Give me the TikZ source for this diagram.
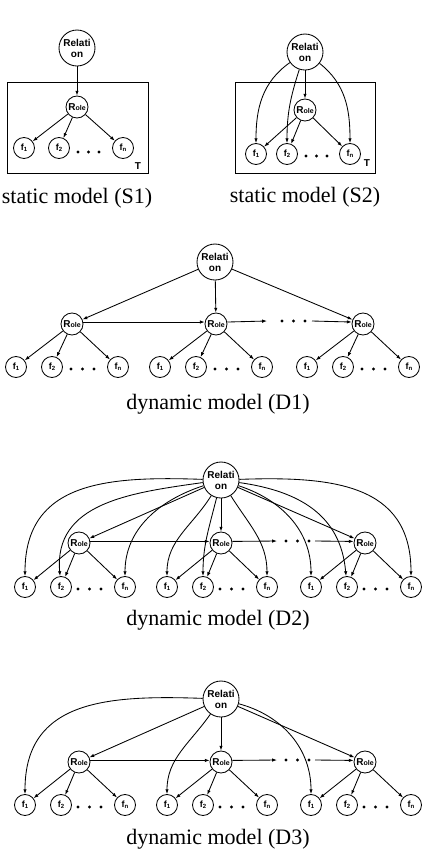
\documentclass[tikz,border=0pt]{standalone}
\usepackage{fontspec}
\setmainfont{Liberation Serif}
\setsansfont{Liberation Sans}
\usetikzlibrary{arrows.meta}
\newcommand{\rolelab}{R\raisebox{-0.4pt}{\fontsize{7}{7}\selectfont ole}}
\newcommand{\flab}[1]{f\raisebox{-1pt}{\fontsize{6}{6}\selectfont #1}}
\tikzset{
  base/.style={draw, circle, inner sep=0pt, line width=0.85pt, font=\sffamily\bfseries},
  relnode/.style={base, minimum size=36pt, align=center, font=\sffamily\bfseries\fontsize{10}{11}\selectfont},
  rolenode/.style={base, minimum size=22pt, font=\sffamily\bfseries\fontsize{10}{10}\selectfont},
  fnode/.style={base, minimum size=21pt, font=\sffamily\bfseries\fontsize{9}{9}\selectfont},
  arr/.style={-{Latex[length=4.8pt,width=3.4pt]}, line width=0.85pt},
  caption/.style={font=\fontsize{22}{22}\selectfont, anchor=base},
  frame/.style={draw, line width=0.85pt},
  tlab/.style={font=\sffamily\bfseries\fontsize{10}{10}\selectfont},
  dotr/.style={fill=black}
}
\begin{document}
\begin{tikzpicture}[x=1pt,y=-1pt]
\useasboundingbox (0,0) rectangle (426,852);
\fill[white] (0,0) rectangle (426,852);

% ---------------- S1 ----------------
\draw[frame] (7,82) rectangle (148,173);
\node[relnode] (sa) at (77,48) {Relati\\on};
\node[rolenode] (saro) at (77,107) {\rolelab};
\node[fnode] (saf1) at (24,148) {\flab{1}};
\node[fnode] (saf2) at (59,148) {\flab{2}};
\node[fnode] (safn) at (123,148) {\flab{n}};
\foreach \x in {78,88.5,99} \fill[dotr] (\x,152) circle (1.7);
\node[tlab] (sat) at (138,166) {T};
\draw[arr] (sa) -- (saro);
\draw[arr] (saro) -- (saf1);
\draw[arr] (saro) -- (saf2);
\draw[arr] (saro) -- (safn);
\node[caption] (sacap) at (77,203) {static model (S1)};

% ---------------- S2 ----------------
\draw[frame] (235,82) rectangle (375,173);
\node[relnode] (sb) at (305,52) {Relati\\on};
\node[rolenode] (sbro) at (305,110) {\rolelab};
\node[fnode] (sbf1) at (256,154) {\flab{1}};
\node[fnode] (sbf2) at (287,154) {\flab{2}};
\node[fnode] (sbfn) at (350,154) {\flab{n}};
\foreach \x in {306,316.5,327} \fill[dotr] (\x,156) circle (1.7);
\node[tlab] (sbt) at (367,163) {T};
\draw[arr] (sb) -- (sbro);
\draw[arr] (sbro) -- (sbf1);
\draw[arr] (sbro) -- (sbf2);
\draw[arr] (sbro) -- (sbfn);
\draw[arr] (sb) to[out=215,in=90] (sbf1);
\draw[arr] (sb) to[out=252,in=90] (sbf2);
\draw[arr] (sb) to[out=-38,in=90] (sbfn);
\node[caption] (sbcap) at (305,202) {static model (S2)};

% ---------------- D1 ----------------
\node[relnode] (da) at (215,262) {Relati\\on};
\node[rolenode] (daro1) at (72,324) {\rolelab};
\node[rolenode] (daro2) at (216,324) {\rolelab};
\node[rolenode] (daro3) at (363,324) {\rolelab};
\foreach \g/\rx in {1/72,2/216,3/363}{
  \node[fnode] (daf\g a) at (\rx-56,367) {\flab{1}};
  \node[fnode] (daf\g b) at (\rx-20,367) {\flab{2}};
  \node[fnode] (daf\g n) at (\rx+46,367) {\flab{n}};
  \foreach \dx in {-1,10.5,22} \fill[dotr] (\rx+\dx,369) circle (1.7);
  \draw[arr] (daro\g) -- (daf\g a);
  \draw[arr] (daro\g) -- (daf\g b);
  \draw[arr] (daro\g) -- (daf\g n);
  \draw[arr] (da) -- (daro\g);
}
\coordinate (dac1) at (267,321);
\coordinate (dac2) at (312,321);
\draw[arr] (daro1.10) -- (daro2.170);
\draw[arr] (daro2.10) -- (dac1);
\foreach \x in {282,293.5,305} \fill[dotr] (\x,321) circle (1.7);
\draw[arr] (dac2) -- (daro3.170);
\node[caption] (dacap) at (218,409) {dynamic model (D1)};

% ---------------- D2 ----------------
\node[relnode] (db) at (221,480) {Relati\\on};
\node[rolenode] (dbro1) at (79,543) {\rolelab};
\node[rolenode] (dbro2) at (221,543) {\rolelab};
\node[rolenode] (dbro3) at (365,543) {\rolelab};
\foreach \g/\rx in {1/79,2/221,3/365}{
  \node[fnode] (dbf\g a) at (\rx-54,587) {\flab{1}};
  \node[fnode] (dbf\g b) at (\rx-18,587) {\flab{2}};
  \node[fnode] (dbf\g n) at (\rx+46,587) {\flab{n}};
  \foreach \dx in {-1,10.5,22} \fill[dotr] (\rx+\dx,589) circle (1.7);
  \draw[arr] (dbro\g) -- (dbf\g a);
  \draw[arr] (dbro\g) -- (dbf\g b);
  \draw[arr] (dbro\g) -- (dbf\g n);
  \draw[arr] (db) -- (dbro\g);
}
\coordinate (dbc1) at (277,541);
\coordinate (dbc2) at (315,541);
\draw[arr] (dbro1.8) -- (dbro2.172);
\draw[arr] (dbro2.8) -- (dbc1);
\foreach \x in {286,297.5,309} \fill[dotr] (\x,541) circle (1.7);
\draw[arr] (dbc2) -- (dbro3.172);
\draw[arr] (db) to[out=178,in=90,looseness=1.2] (dbf1a);
\draw[arr] (db) to[out=188,in=95,looseness=1.1] (dbf1b);
\draw[arr] (db) to[out=198,in=90] (dbf1n);
\draw[arr] (db) to[out=238,in=90] (dbf2a);
\draw[arr] (db) to[out=256,in=90] (dbf2b);
\draw[arr] (db) to[out=-58,in=90] (dbf2n);
\draw[arr] (db) to[out=-18,in=90] (dbf3a);
\draw[arr] (db) to[out=-8,in=95,looseness=1.1] (dbf3b);
\draw[arr] (db) to[out=2,in=90,looseness=1.2] (dbf3n);
\node[caption] (dbcap) at (218,625) {dynamic model (D2)};

% ---------------- D3 ----------------
\node[relnode] (dc) at (221,699) {Relati\\on};
\node[rolenode] (dcro1) at (79,762) {\rolelab};
\node[rolenode] (dcro2) at (221,762) {\rolelab};
\node[rolenode] (dcro3) at (365,762) {\rolelab};
\foreach \g/\rx in {1/79,2/221,3/365}{
  \node[fnode] (dcf\g a) at (\rx-54,805) {\flab{1}};
  \node[fnode] (dcf\g b) at (\rx-18,805) {\flab{2}};
  \node[fnode] (dcf\g n) at (\rx+46,805) {\flab{n}};
  \foreach \dx in {-1,10.5,22} \fill[dotr] (\rx+\dx,807) circle (1.7);
  \draw[arr] (dcro\g) -- (dcf\g a);
  \draw[arr] (dcro\g) -- (dcf\g b);
  \draw[arr] (dcro\g) -- (dcf\g n);
  \draw[arr] (dc) -- (dcro\g);
}
\coordinate (dcc1) at (277,760);
\coordinate (dcc2) at (315,760);
\draw[arr] (dcro1.8) -- (dcro2.172);
\draw[arr] (dcro2.8) -- (dcc1);
\foreach \x in {286,297.5,309} \fill[dotr] (\x,760) circle (1.7);
\draw[arr] (dcc2) -- (dcro3.172);
\draw[arr] (dc) to[out=178,in=90,looseness=1.2] (dcf1a);
\draw[arr] (dc) to[out=235,in=90] (dcf2a);
\draw[arr] (dc) to[out=-15,in=90] (dcf3a);
\node[caption] (dccap) at (218,844) {dynamic model (D3)};
\end{tikzpicture}
\end{document}
